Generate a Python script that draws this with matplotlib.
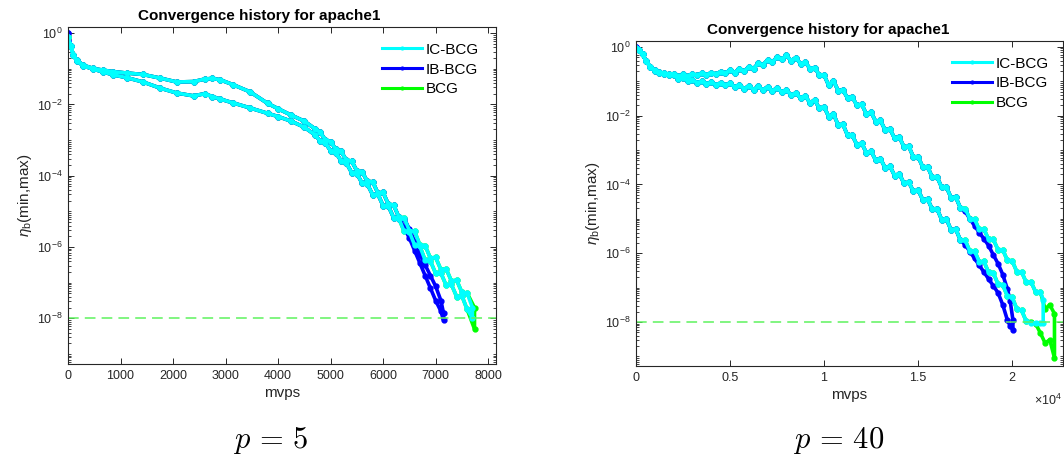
import numpy as np
import matplotlib
matplotlib.use('Agg')
import matplotlib.pyplot as plt
from matplotlib.ticker import FixedLocator, LogLocator, NullFormatter

plt.rcParams['font.family'] = ['Liberation Sans', 'DejaVu Sans']
plt.rcParams['mathtext.fontset'] = 'custom'
plt.rcParams['mathtext.rm'] = 'Liberation Sans'
plt.rcParams['mathtext.it'] = 'Liberation Sans:italic'

# ---------------- data (log10 of eta_b) ----------------
# p = 5 : part shared by all three methods
left_x_head = [0, 50, 100, 170, 290, 480, 670, 860, 1120, 1430, 1750, 2070, 2390,
               2600, 2750, 2900, 3150, 3470, 3800, 4000, 4250, 4500, 4700,
               4800, 4900, 5000, 5100, 5200, 5300, 5400, 5500, 5600, 5700, 5800,
               5900, 6000, 6100, 6200, 6300]
left_max_head = [-0.10, -0.35, -0.60, -0.76, -0.90, -0.99, -1.04, -1.08, -1.12, -1.16,
                 -1.26, -1.37, -1.36, -1.29, -1.27, -1.31, -1.45, -1.65, -1.97, -2.12,
                 -2.30, -2.47, -2.68,
                 -2.78, -2.99, -3.04, -3.26, -3.32, -3.56, -3.59, -3.86, -3.89, -4.16,
                 -4.17, -4.48, -4.47, -4.80, -4.82, -5.16]
left_min_head = [-0.10, -0.35, -0.62, -0.78, -0.92, -1.01, -1.09, -1.17, -1.25, -1.37,
                 -1.54, -1.68, -1.76, -1.70, -1.78, -1.85, -1.96, -2.10, -2.25, -2.34,
                 -2.47, -2.64, -2.85,
                 -3.02, -3.08, -3.30, -3.36, -3.58, -3.64, -3.91, -3.94, -4.21, -4.24,
                 -4.53, -4.52, -4.84, -4.85, -5.18, -5.20]

left_ic_x = [6400, 6500, 6600, 6700, 6800, 6900, 7000, 7100, 7200, 7300, 7400, 7500, 7600, 7700]
left_ic_max = [-5.18, -5.54, -5.56, -5.94, -5.96, -6.31, -6.29, -6.63, -6.61, -6.95,
               -6.93, -7.27, -7.29, -7.70]
left_ic_min = [-5.56, -5.57, -5.95, -5.98, -6.37, -6.39, -6.74, -6.73, -7.07, -7.05,
               -7.39, -7.37, -7.75, -7.98]

left_ib_x = [6400, 6500, 6600, 6700, 6800, 6900, 7000, 7100, 7150]
left_ib_max = [-5.20, -5.50, -5.85, -6.20, -6.50, -6.80, -7.10, -7.50, -7.85]
left_ib_min = [-5.45, -5.75, -6.10, -6.45, -6.80, -7.15, -7.50, -7.80, -8.05]

left_bcg_x = [6400, 6500, 6600, 6700, 6800, 6900, 7000, 7100, 7200, 7300, 7400, 7500, 7600, 7740]
left_bcg_max = [-5.18, -5.54, -5.56, -5.94, -5.96, -6.31, -6.29, -6.63, -6.61, -6.95,
                -6.93, -7.27, -7.29, -7.70]
left_bcg_min = [-5.56, -5.57, -5.95, -5.98, -6.37, -6.39, -6.74, -6.73, -7.07, -7.05,
                -7.39, -7.37, -7.75, -8.30]

# p = 40 : part shared by all three methods
right_x_head = [0, 150, 350, 550, 750, 1000, 1250, 1500, 1750,
                2000, 2250, 2500, 2750, 3000, 3250, 3500, 3750, 4000, 4250, 4500, 4750,
                5000, 5250, 5500, 5750, 6000, 6250, 6500, 6750, 7000, 7250, 7500, 7750,
                8000, 8250, 8500, 8750, 9000, 9250, 9500, 9750, 10000, 10250, 10500, 10750,
                11000, 11250, 11500, 11750, 12000, 12250, 12500, 12750, 13000, 13250,
                13500, 13750, 14000, 14250, 14500, 14750, 15000, 15250, 15500, 15750,
                16000, 16250, 16500, 16750, 17000, 17250]
right_max_head = [-0.04, -0.10, -0.22, -0.42, -0.57, -0.68, -0.74, -0.77, -0.79,
                  -0.78, -0.86, -0.80, -0.85, -0.78, -0.83, -0.76, -0.81, -0.75, -0.79, -0.72, -0.77,
                  -0.67, -0.75, -0.63, -0.71, -0.58, -0.63, -0.48, -0.52, -0.38, -0.44, -0.30, -0.36,
                  -0.25, -0.40, -0.31, -0.49, -0.44, -0.63, -0.60, -0.82, -0.82, -1.12, -0.98, -1.27,
                  -1.25, -1.49, -1.46, -1.70, -1.67, -1.95, -1.90, -2.17, -2.14, -2.42,
                  -2.38, -2.66, -2.62, -2.91, -2.89, -3.20, -3.19, -3.50, -3.48, -3.79,
                  -3.77, -4.08, -4.07, -4.38, -4.37, -4.68]
right_min_head = [-0.04, -0.10, -0.22, -0.42, -0.57, -0.69, -0.75, -0.78, -0.81,
                  -0.81, -0.92, -0.90, -0.99, -0.95, -1.04, -1.00, -1.07, -1.03, -1.10, -1.05, -1.12,
                  -1.05, -1.17, -1.10, -1.22, -1.13, -1.24, -1.15, -1.25, -1.16, -1.28, -1.19, -1.31,
                  -1.25, -1.40, -1.34, -1.49, -1.42, -1.63, -1.54, -1.79, -1.74, -2.03, -1.95, -2.27,
                  -2.25, -2.57, -2.57, -2.85, -2.80, -3.08, -3.03, -3.30, -3.25, -3.52,
                  -3.47, -3.74, -3.69, -3.97, -3.93, -4.20, -4.16, -4.45, -4.42, -4.72,
                  -4.70, -5.02, -5.00, -5.32, -5.30, -5.62]

right_ic_x = [17500, 17750, 18000, 18250, 18500, 18750, 19000, 19250, 19500, 19750,
              20000, 20250, 20500, 20750, 21000, 21250, 21500, 21650]
right_ic_max = [-4.70, -5.00, -5.01, -5.31, -5.30, -5.60, -5.60, -5.90, -5.90, -6.21,
                -6.22, -6.54, -6.54, -6.85, -6.83, -7.13, -7.12, -7.35]
right_ic_min = [-5.62, -5.94, -5.93, -6.25, -6.24, -6.56, -6.57, -6.90, -6.92, -7.25,
                -7.28, -7.62, -7.66, -7.98, -8.03, -8.03, -8.03, -8.03]

right_ib_x = [17500, 17750, 18000, 18250, 18500, 18750, 19000, 19250, 19500, 19750, 19900, 20040]
right_ib_max = [-4.78, -5.00, -5.20, -5.40, -5.58, -5.78, -6.05, -6.30, -6.62, -7.05, -7.40, -7.94]
right_ib_min = [-5.75, -5.95, -6.15, -6.35, -6.55, -6.75, -6.95, -7.15, -7.50, -7.95, -8.12, -8.23]

right_bcg_x = [17500, 17750, 18000, 18250, 18500, 18750, 19000, 19250, 19500, 19750,
               20000, 20250, 20500, 20750, 21000, 21250, 21500, 21750, 22000, 22250]
right_bcg_max = [-4.70, -5.00, -5.01, -5.31, -5.30, -5.60, -5.60, -5.90, -5.90, -6.21,
                 -6.22, -6.54, -6.54, -6.85, -6.83, -7.13, -7.12, -7.62, -7.50, -7.76]
right_bcg_min = [-5.62, -5.94, -5.93, -6.25, -6.24, -6.56, -6.57, -6.90, -6.92, -7.25,
                 -7.28, -7.62, -7.66, -7.98, -7.99, -8.05, -8.32, -8.61, -8.52, -9.04]

ib_start = 0.0          # IB-BCG's first value sits a bit above the others
tolerance = 1e-8
methods = ['IC-BCG', 'IB-BCG', 'BCG']
colors = {'IC-BCG': '#00ffff', 'IB-BCG': '#0000ff', 'BCG': '#00ff00'}


def band(x_head, max_head, min_head, x_tail, max_tail, min_tail, first=None):
    # min curve forward, then max curve backward (one line per method)
    x = list(x_head) + list(x_tail)
    ymax = list(max_head) + list(max_tail)
    ymin = list(min_head) + list(min_tail)
    if first is not None:
        ymax[0] = first
        ymin[0] = first
    xs = np.array(x + x[::-1], dtype=float)
    ys = 10.0 ** np.array(ymin + ymax[::-1])
    return xs, ys


panels = [
    dict(rect=[0.0639, 0.2070, 0.4023, 0.7342], xlim=(0, 8150),
         head=(left_x_head, left_max_head, left_min_head),
         tails={'IC-BCG': (left_ic_x, left_ic_max, left_ic_min),
                'IB-BCG': (left_ib_x, left_ib_max, left_ib_min),
                'BCG': (left_bcg_x, left_bcg_max, left_bcg_min)},
         caption=r'$p\,=\,5$', cap_x=271, title_x=0.446, leg=(0.734, 0.953)),
    dict(rect=[0.5977, 0.2026, 0.4013, 0.7081], xlim=(0, 22700),
         head=(right_x_head, right_max_head, right_min_head),
         tails={'IC-BCG': (right_ic_x, right_ic_max, right_ic_min),
                'IB-BCG': (right_ib_x, right_ib_max, right_ib_min),
                'BCG': (right_bcg_x, right_bcg_max, right_bcg_min)},
         caption=r'$p\,=\,40$', cap_x=839, title_x=0.451, leg=(0.740, 0.952)),
]

fig = plt.figure(figsize=(10.64, 4.59), dpi=100)
ink = '#262626'

for i, p in enumerate(panels):
    ax = fig.add_axes(p['rect'])
    handles = {}
    for name in ['BCG', 'IB-BCG', 'IC-BCG']:
        first = ib_start if name == 'IB-BCG' else None
        xs, ys = band(*p['head'], *p['tails'][name], first=first)
        handles[name], = ax.plot(xs, ys, '.-', color=colors[name], lw=2.6, ms=7,
                                 label=name)
    ax.axhline(tolerance, color='#5ef25e', lw=1.1, ls=(0, (7, 4)))

    ax.set_yscale('log')
    ax.set_xlim(*p['xlim'])
    ax.set_ylim(10 ** -9.28, 10 ** 0.172)
    ax.yaxis.set_major_locator(FixedLocator([1e0, 1e-2, 1e-4, 1e-6, 1e-8]))
    ax.yaxis.set_minor_locator(LogLocator(base=10, subs=np.arange(1, 10), numticks=60))
    ax.yaxis.set_minor_formatter(NullFormatter())
    if i == 0:
        ax.set_xticks([0, 1000, 2000, 3000, 4000, 5000, 6000, 7000, 8000])
    else:
        ax.set_xticks([0, 5000, 10000, 15000, 20000])
        ax.set_xticklabels(['0', '0.5', '1', '1.5', '2'])
        ax.text(0.998, -0.105, r'$\times10^4$', transform=ax.transAxes,
                ha='right', va='center', fontsize=9, color=ink)

    ax.tick_params(which='both', direction='in', top=True, right=True,
                   colors=ink, labelsize=9, pad=4)
    ax.tick_params(which='major', length=4.5, width=0.7)
    ax.tick_params(which='minor', length=2.5, width=0.6)
    for s in ax.spines.values():
        s.set_color(ink)
        s.set_linewidth(0.8)

    ax.set_title('Convergence history for apache1', fontsize=11, fontweight='bold',
                 x=p['title_x'], pad=5, color='black')
    ax.set_xlabel('mvps', fontsize=11, color=ink, labelpad=3)
    ax.set_ylabel(r'$\eta_{\rm b}$(min,max)', fontsize=11, color=ink, labelpad=2)

    leg = ax.legend([handles[m] for m in methods], methods, loc='upper left',
                    bbox_to_anchor=p['leg'], frameon=False,
                    fontsize=11, borderpad=0, borderaxespad=0, handlelength=2.6,
                    handletextpad=0.25, labelspacing=0.38)
    for h in leg.legend_handles:
        h.set_linewidth(2.2)
        h.set_markersize(4)

    fig.text(p['cap_x'] / 1064, 1 - 440 / 459, p['caption'], ha='center', va='center',
             fontsize=22, math_fontfamily='cm')

fig.savefig('out.png', dpi=100)
